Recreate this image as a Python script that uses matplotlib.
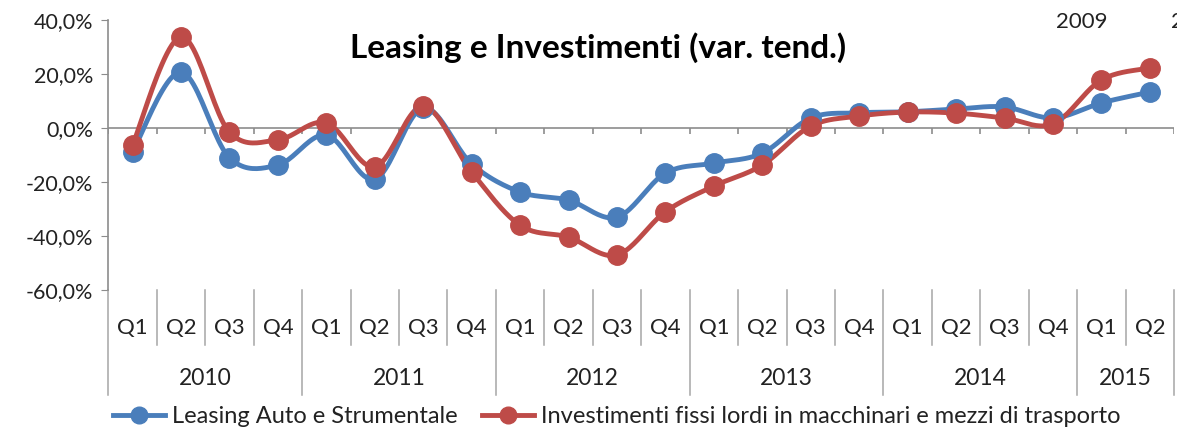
import numpy as np
import matplotlib.pyplot as plt
from matplotlib.ticker import FuncFormatter

# Data
years = ["2010", "2011", "2012", "2013", "2014", "2015"]
quarters_per_year = [4, 4, 4, 4, 4, 2]
quarter_labels = ["Q1", "Q2", "Q3", "Q4"] * 5 + ["Q1", "Q2"]

leasing = [-8.9, 20.7, -11.0, -13.7, -2.6, -19.0, 7.4, -13.3,
           -23.7, -26.7, -33.0, -16.7, -13.0, -9.3, 3.7, 5.6,
           6.0, 7.0, 7.8, 3.7, 9.3, 13.3]
investimenti = [-6.3, 33.7, -1.5, -4.4, 1.9, -14.4, 8.1, -16.3,
                -36.0, -40.4, -47.0, -31.0, -21.5, -13.7, 0.7, 4.4,
                5.9, 5.5, 3.7, 1.5, 17.8, 22.2]

series_names = ["Leasing Auto e Strumentale",
                "Investimenti fissi lordi in macchinari e mezzi di trasporto"]

BLUE = "#4A7EBB"
RED = "#BE4B48"
GRAY = "#8C8C8C"
TXT = "#222222"

plt.rcParams['font.family'] = ['Lato', 'DejaVu Sans']


def smooth(x, y, n=24):
    # Catmull-Rom curve through the points, like Excel's smoothed line
    x = np.asarray(x, float)
    y = np.asarray(y, float)
    xs, ys = [], []
    for i in range(len(x) - 1):
        i0 = max(i - 1, 0)
        i3 = min(i + 2, len(x) - 1)
        t = np.linspace(0, 1, n)
        for arr, out in ((x, xs), (y, ys)):
            p0, p1, p2, p3 = arr[i0], arr[i], arr[i + 1], arr[i3]
            out.extend(0.5 * ((2 * p1) + (-p0 + p2) * t
                              + (2 * p0 - 5 * p1 + 4 * p2 - p3) * t ** 2
                              + (-p0 + 3 * p1 - 3 * p2 + p3) * t ** 3))
    return xs, ys


fig = plt.figure(figsize=(11.77, 4.33), dpi=100)
ax = fig.add_axes([0.092, 0.330, 0.9055, 0.624])

x = np.arange(len(leasing))
n = len(x)

ax.axhline(0, color=GRAY, lw=1.2, zorder=1)
bounds = np.arange(n + 1) - 0.5
ax.vlines(bounds, 0, -2.2, color=GRAY, lw=1.2, zorder=1)

for vals, col, name in ((leasing, BLUE, series_names[0]),
                        (investimenti, RED, series_names[1])):
    sx, sy = smooth(x, vals)
    ax.plot(sx, sy, color=col, lw=3.5, zorder=3, solid_capstyle='round')
    ax.plot(x, vals, 'o', color=col, ms=14, zorder=4)
    ax.plot([], [], '-o', color=col, lw=3.5, ms=12, label=name)

ax.set_xlim(-0.5, n - 0.5)
ax.set_ylim(-60, 40)
ax.set_yticks(np.arange(-60, 41, 20))
ax.yaxis.set_major_formatter(FuncFormatter(lambda v, p: f"{v:.1f}%".replace(".", ",")))
ax.tick_params(axis='y', length=5, color=GRAY, labelsize=15.5, labelcolor=TXT, pad=6)
ax.set_xticks([])
for s in ("top", "right", "bottom"):
    ax.spines[s].set_visible(False)
ax.spines["left"].set_color(GRAY)
ax.spines["left"].set_linewidth(1.2)

# multi-level category axis below the plot
tr = ax.get_xaxis_transform()
year_starts = np.concatenate([[0], np.cumsum(quarters_per_year)])
for b in range(n + 1):
    long_line = b in year_starts
    ax.plot([b - 0.5, b - 0.5], [0, -0.389 if long_line else -0.204],
            transform=tr, color="#A6A6A6", lw=1.1, clip_on=False)
for i, lab in enumerate(quarter_labels):
    ax.text(i, -0.141, lab, transform=tr, ha='center', va='center',
            fontsize=16, color=TXT)
for k, yr in enumerate(years):
    mid = (year_starts[k] + year_starts[k + 1] - 1) / 2
    ax.text(mid, -0.326, yr, transform=tr, ha='center', va='center',
            fontsize=16.5, color=TXT)

ax.text(0.46, 0.896, "Leasing e Investimenti (var. tend.)", transform=ax.transAxes,
        ha='center', va='center', fontsize=24, fontweight='bold', color="black")

fig.text(1082 / 1177, 1 - 22 / 433, "2009", ha='center', va='center',
         fontsize=16, color=TXT)
fig.text(1171 / 1177, 1 - 22 / 433, "2", ha='left', va='center',
         fontsize=16, color=TXT)

fig.legend(loc='lower center', bbox_to_anchor=(0.524, -0.035), ncol=2, frameon=False,
           fontsize=17, handlelength=2.2, columnspacing=1.0, handletextpad=0.3,
           labelcolor=TXT)

fig.savefig("out.png", dpi=100)
